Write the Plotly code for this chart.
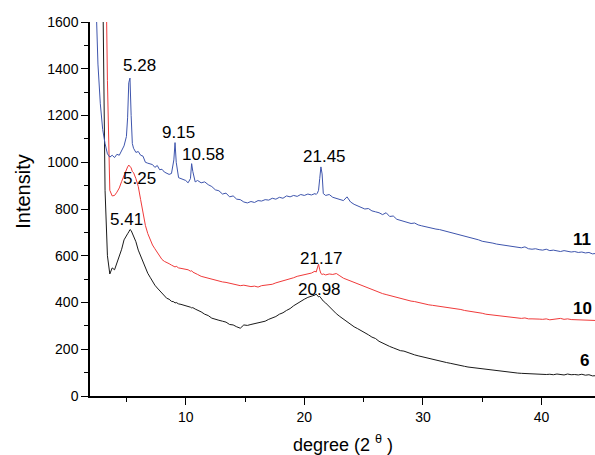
import plotly.graph_objects as go

# 2-theta grid (degrees)
two_theta = [
    2.4, 2.6, 2.8, 3.0, 3.2, 3.4, 3.6, 3.8, 4.0, 4.2,
    4.4, 4.6, 4.8, 5.0, 5.1, 5.2, 5.3, 5.4, 5.5, 5.6,
    5.8, 6.0, 6.2, 6.4, 6.6, 6.8, 7.0, 7.2, 7.4, 7.6,
    7.8, 8.0, 8.2, 8.4, 8.6, 8.8, 9.0, 9.1, 9.2, 9.4,
    9.6, 9.8, 10.0, 10.2, 10.4, 10.5, 10.6, 10.8, 11.0, 11.3,
    11.6, 11.9, 12.2, 12.5, 12.8, 13.1, 13.4, 13.7, 14.0, 14.3,
    14.6, 14.9, 15.2, 15.5, 15.8, 16.1, 16.4, 16.7, 17.0, 17.3,
    17.6, 17.9, 18.2, 18.5, 18.8, 19.1, 19.4, 19.7, 20.0, 20.3,
    20.6, 20.9, 21.0, 21.1, 21.2, 21.3, 21.4, 21.5, 21.6, 21.8,
    22.1, 22.4, 22.7, 23.0, 23.3, 23.6, 23.9, 24.2, 24.5, 24.8,
    25.1, 25.4, 25.7, 26.0, 26.3, 26.6, 26.9, 27.2, 27.5, 27.8,
    28.1, 28.4, 28.7, 29.0, 29.3, 29.6, 29.9, 30.2, 30.5, 30.8,
    31.1, 31.4, 31.7, 32.0, 32.3, 32.6, 32.9, 33.2, 33.5, 33.8,
    34.1, 34.4, 34.7, 35.0, 35.3, 35.6, 35.9, 36.2, 36.5, 36.8,
    37.1, 37.4, 37.7, 38.0, 38.3, 38.6, 38.9, 39.2, 39.5, 39.8,
    40.1, 40.4, 40.7, 41.0, 41.3, 41.6, 41.9, 42.2, 42.5, 42.8,
    43.1, 43.4, 43.7, 44.0, 44.3, 44.6,
]

# sample 6 (black)
intensity_6 = [
    6000, 4500, 3000, 1800, 880, 600, 522, 548, 540, 570,
    596, 628, 668, 690, 694, 702, 712, 708, 697, 688,
    660, 624, 598, 570, 548, 525, 508, 490, 474, 462,
    450, 440, 428, 418, 414, 405, 403, 398, 400, 394,
    392, 389, 388, 384, 380, 377, 378, 372, 368, 360,
    350, 344, 333, 330, 324, 320, 316, 306, 304, 296,
    290, 304, 302, 306, 310, 312, 316, 320, 328, 334,
    340, 350, 356, 366, 374, 386, 396, 406, 414, 422,
    426, 432, 436, 430, 424, 426, 418, 412, 406, 398,
    382, 366, 352, 340, 328, 318, 304, 296, 288, 280,
    270, 262, 252, 246, 234, 226, 218, 212, 206, 200,
    194, 192, 186, 180, 176, 172, 168, 164, 160, 156,
    152, 150, 146, 143, 140, 136, 132, 130, 127, 124,
    122, 120, 118, 118, 114, 112, 110, 108, 105, 104,
    102, 100, 100, 98, 97, 96, 96, 94, 95, 93,
    94, 92, 93, 91, 94, 92, 90, 94, 91, 92,
    90, 93, 89, 91, 86, 87,
]

# sample 10 (red)
intensity_10 = [
    9000, 7000, 5000, 3200, 2100, 1350, 880, 856, 858, 872,
    890, 918, 946, 972, 980, 988, 984, 976, 960, 956,
    930, 896, 840, 780, 730, 695, 668, 646, 630, 616,
    600, 584, 576, 572, 566, 560, 556, 552, 555, 548,
    546, 544, 540, 540, 534, 536, 530, 526, 520, 512,
    508, 504, 500, 494, 492, 488, 486, 482, 480, 476,
    472, 474, 470, 468, 470, 466, 472, 474, 476, 478,
    484, 488, 494, 498, 502, 506, 512, 516, 520, 524,
    526, 534, 530, 548, 564, 540, 524, 520, 522, 518,
    522, 520, 524, 514, 504, 498, 492, 486, 478, 474,
    466, 460, 454, 448, 442, 438, 434, 430, 424, 420,
    416, 412, 410, 406, 404, 400, 396, 394, 390, 388,
    386, 384, 382, 380, 376, 374, 372, 370, 366, 364,
    360, 358, 356, 354, 350, 348, 346, 344, 342, 340,
    338, 338, 336, 334, 332, 334, 330, 330, 328, 329,
    328, 330, 326, 328, 330, 332, 328, 330, 327, 326,
    325, 326, 324, 325, 322, 323,
]

# sample 11 (blue)
intensity_11 = [
    1750, 1420, 1250, 1140, 1080, 1036, 1022, 1030, 1020, 1034,
    1030, 1048, 1070, 1110, 1190, 1340, 1360, 1200, 1080, 1060,
    1042, 1046, 1030, 1026, 1000, 996, 992, 990, 978, 986,
    968, 970, 958, 954, 948, 952, 1010, 1084, 1000, 934,
    930, 926, 922, 912, 930, 994, 960, 916, 922, 912,
    916, 904, 896, 882, 878, 864, 868, 852, 856, 842,
    840, 830, 826, 832, 828, 836, 834, 840, 838, 846,
    842, 850, 846, 856, 852, 858, 854, 862, 858, 864,
    860, 866, 862, 868, 880, 930, 980, 950, 866, 858,
    862, 850, 846, 840, 836, 852, 830, 820, 814, 806,
    800, 802, 792, 788, 784, 776, 784, 768, 770, 756,
    752, 748, 742, 738, 740, 732, 728, 724, 720, 718,
    714, 712, 708, 704, 700, 698, 692, 690, 684, 680,
    676, 672, 668, 662, 660, 656, 654, 650, 648, 644,
    642, 640, 638, 636, 634, 638, 630, 628, 630, 626,
    624, 628, 622, 624, 620, 618, 622, 618, 616, 618,
    614, 616, 612, 614, 608, 610,
]

assert len(two_theta) == len(intensity_6) == len(intensity_10) == len(intensity_11)

# peak labels: (text, x, y)
peak_text = ["5.28", "9.15", "10.58", "21.45", "5.25", "5.41", "21.17", "20.98"]
peak_x = [6.09, 9.38, 11.54, 21.69, 6.09, 4.97, 21.41, 21.24]
peak_y = [1413, 1128, 1032, 1025, 932, 754, 590, 454]

# series labels
series_names = ["11", "10", "6"]
series_label_x = [44.3, 44.4, 44.2]
series_label_y = [671, 376, 154]

FONT = "Arial, Liberation Sans, sans-serif"

fig = go.Figure()
fig.add_trace(go.Scatter(x=two_theta, y=intensity_6, mode="lines",
                         line=dict(color="#1a1a1a", width=1), name="6"))
fig.add_trace(go.Scatter(x=two_theta, y=intensity_10, mode="lines",
                         line=dict(color="#f03a3a", width=1), name="10"))
fig.add_trace(go.Scatter(x=two_theta, y=intensity_11, mode="lines",
                         line=dict(color="#3e55ad", width=1), name="11"))

annotations = []
for t, x, y in zip(peak_text, peak_x, peak_y):
    annotations.append(dict(x=x, y=y, xref="x", yref="y", text=t, showarrow=False,
                            xanchor="center", yanchor="middle",
                            font=dict(family=FONT, size=17, color="black")))
for t, x, y in zip(series_names, series_label_x, series_label_y):
    annotations.append(dict(x=x, y=y, xref="x", yref="y", text="<b>%s</b>" % t,
                            showarrow=False, xanchor="right", yanchor="middle",
                            font=dict(family=FONT, size=17, color="black")))
annotations.append(dict(x=-0.132, y=0.547, xref="paper", yref="paper", text="Intensity",
                        showarrow=False, textangle=-90, xanchor="center", yanchor="middle",
                        font=dict(family=FONT, size=20, color="black")))
annotations.append(dict(x=0.5, y=-0.127, xref="paper", yref="paper",
                        text="degree (2 <sup>θ</sup> )",
                        showarrow=False, xanchor="center", yanchor="middle",
                        font=dict(family=FONT, size=18, color="black")))

fig.update_layout(
    width=595, height=455,
    margin=dict(l=90, r=0, t=22, b=59),
    paper_bgcolor="white", plot_bgcolor="white",
    showlegend=False,
    annotations=annotations,
    font=dict(family=FONT, size=14, color="black"),
)
fig.update_xaxes(range=[1.93, 44.51], showgrid=False, zeroline=False,
                 showline=True, linecolor="black", linewidth=1.5,
                 ticks="outside", ticklen=7, tickwidth=1.3, tickcolor="black",
                 tick0=0, dtick=10,
                 minor=dict(ticks="outside", ticklen=4, tickwidth=1.3, tickcolor="black",
                            tick0=0, dtick=5),
                 tickfont=dict(family=FONT, size=14, color="black"))
fig.update_yaxes(range=[0, 1600], showgrid=False, zeroline=False,
                 showline=True, linecolor="black", linewidth=1.5,
                 ticks="outside", ticklen=7, tickwidth=1.3, tickcolor="black",
                 tick0=0, dtick=200,
                 minor=dict(ticks="outside", ticklen=4, tickwidth=1.3, tickcolor="black",
                            tick0=0, dtick=100),
                 tickfont=dict(family=FONT, size=14, color="black"))

# remove the default page margin so the 595x455 figure fills the window exactly
fig.write_html("out.html",
               config={"displayModeBar": False},
               post_script="document.body.style.margin='0';document.body.style.overflow='hidden';")
